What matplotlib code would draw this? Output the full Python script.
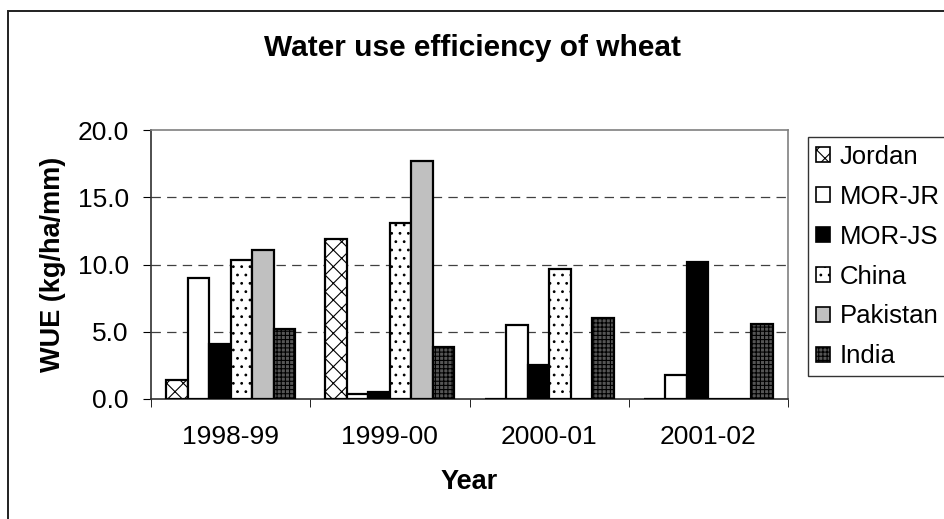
import numpy as np
import matplotlib
matplotlib.use("Agg")
import matplotlib.pyplot as plt
from matplotlib.patches import Rectangle, Patch
from matplotlib.ticker import FormatStrFormatter

plt.rcParams['font.family'] = ['Liberation Sans', 'DejaVu Sans']
plt.rcParams['hatch.linewidth'] = 0.8

# data
years = ['1998-99', '1999-00', '2000-01', '2001-02']
jordan = [1.4, 11.9, 0.0, 0.0]
mor_jr = [9.0, 0.4, 5.5, 1.8]
mor_js = [4.1, 0.5, 2.5, 10.2]
china = [10.3, 13.1, 9.7, 0.0]
pakistan = [11.1, 17.7, 0.0, 0.0]
india = [5.2, 3.9, 6.0, 5.6]

series = [
    ('Jordan', jordan, dict(facecolor='white', hatch='xx')),
    ('MOR-JR', mor_jr, dict(facecolor='white')),
    ('MOR-JS', mor_js, dict(facecolor='black')),
    ('China', china, dict(facecolor='white', hatch='..')),
    ('Pakistan', pakistan, dict(facecolor='#c0c0c0')),
    ('India', india, dict(facecolor='#555555', hatch='++++')),
]

fig = plt.figure(figsize=(9.44, 5.19), dpi=100)
ax = fig.add_axes([151/944, 1-399/519, (788-151)/944, (399-130)/519])

# outer chart frame
fig.patches.append(Rectangle((8/944, -0.1), 1.2, 1.1 - 11/519, transform=fig.transFigure,
                             fill=False, edgecolor='#202020', linewidth=1.4))

x = np.arange(len(years))
w = 0.135
for i, (name, vals, style) in enumerate(series):
    pos = x + (i - 2.5) * w
    ax.bar(pos, vals, width=w, edgecolor='black', linewidth=1.6, zorder=3, **style)

ax.set_xlim(-0.5, 3.5)
ax.set_ylim(0, 20)
ax.set_yticks([0, 5, 10, 15, 20])
ax.yaxis.set_major_formatter(FormatStrFormatter('%.1f'))
ax.set_xticks(x)
ax.set_xticklabels(years)
ax.set_xticks([-0.5, 0.5, 1.5, 2.5, 3.5], minor=True)
ax.tick_params(axis='x', which='major', length=0, pad=19, labelsize=19)
ax.tick_params(axis='x', which='minor', length=6, direction='out', color='black')
ax.tick_params(axis='y', length=6, direction='out', labelsize=19, pad=10)

for yv in [5, 10, 15]:
    ax.axhline(yv, color='#404040', linestyle=(0, (7.5, 5)), linewidth=0.9, zorder=1)

ax.spines['left'].set_color('#303030')
ax.spines['bottom'].set_color('#303030')
ax.spines['top'].set_color('#808080')
ax.spines['right'].set_color('#808080')
for s in ax.spines.values():
    s.set_linewidth(1.2)

ax.set_xlabel('Year', fontsize=19.5, fontweight='bold', labelpad=14)
ax.set_ylabel('WUE (kg/ha/mm)', fontsize=19.5, fontweight='bold', labelpad=8)
fig.text(0.5, 1 - 48/519, 'Water use efficiency of wheat', ha='center', va='center',
         fontsize=21.5, fontweight='bold')

handles = [Patch(edgecolor='black', linewidth=1.2, label=name, **style) for name, vals, style in series]
leg = fig.legend(handles=handles, loc='upper left', bbox_to_anchor=(808/944, 1 - 137/519),
                 fontsize=18.5, frameon=True, fancybox=False, edgecolor='black',
                 handlelength=0.55, handleheight=0.55, handletextpad=0.4,
                 labelspacing=0.62, borderpad=0.3, borderaxespad=0)
leg.get_frame().set_linewidth(1.0)

fig.savefig('out.png', dpi=100)
